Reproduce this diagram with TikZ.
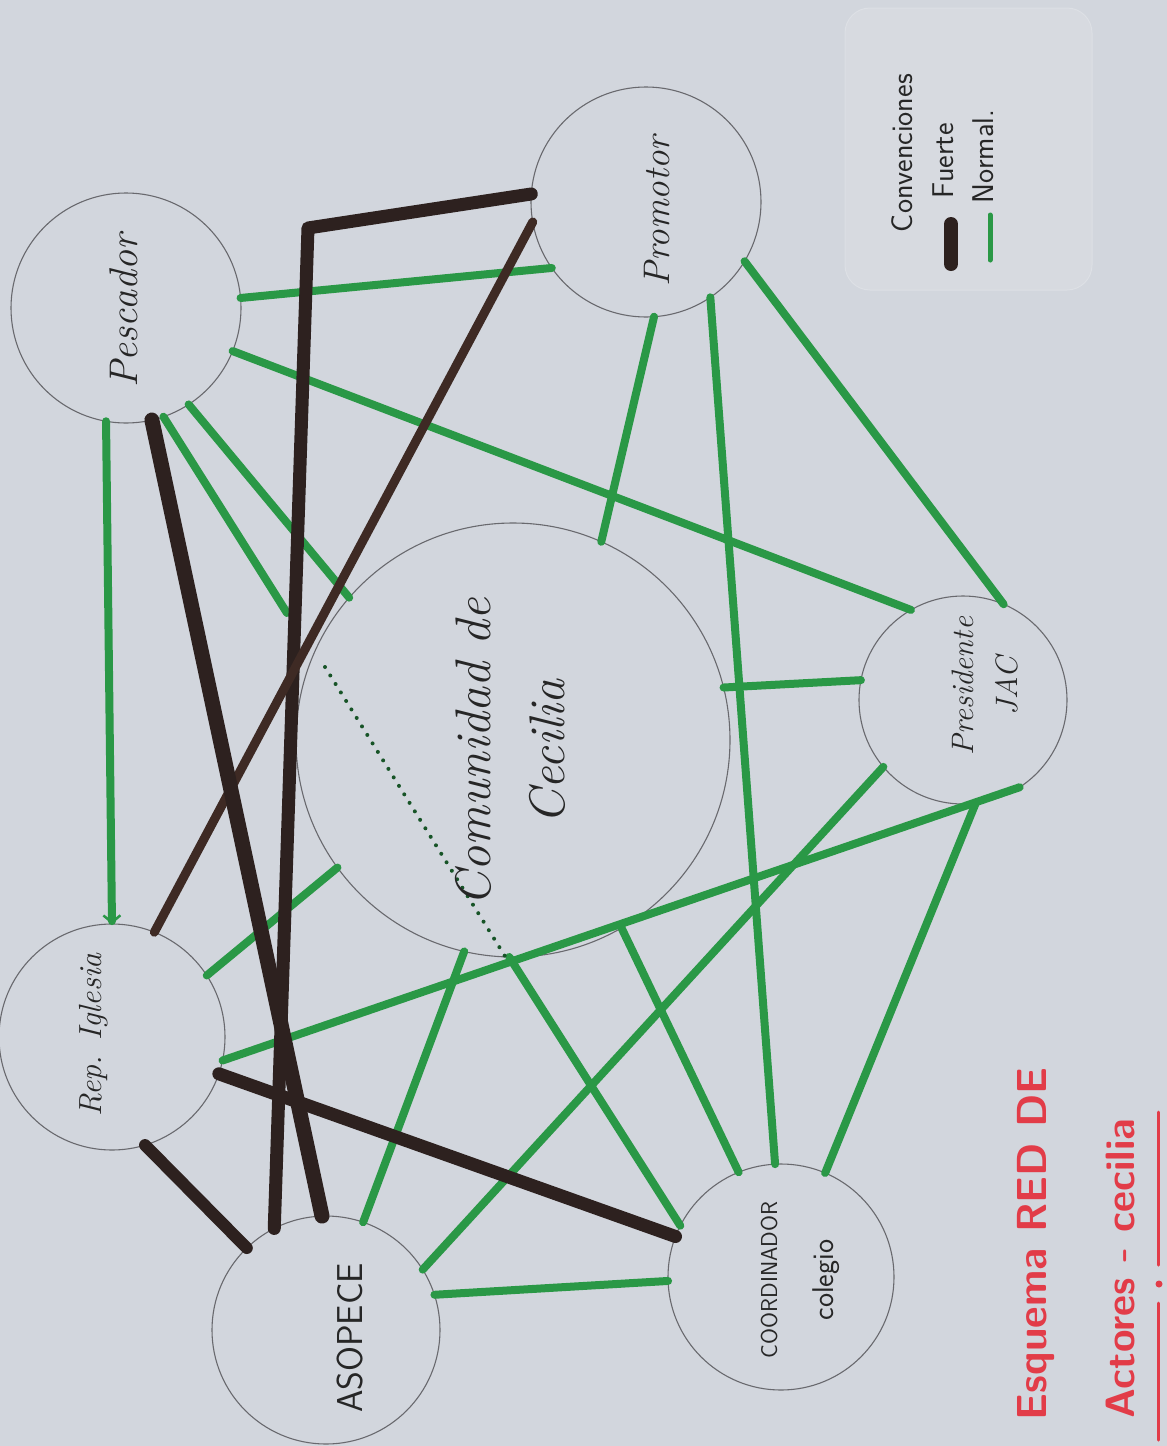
\documentclass[tikz,border=0pt]{standalone}
\usepackage{fontspec}
\usetikzlibrary{arrows.meta}
\definecolor{paper}{RGB}{210,214,221}
\definecolor{marker}{RGB}{42,152,70}
\definecolor{fuertecol}{RGB}{45,33,31}
\definecolor{fuertecolb}{RGB}{62,42,36}
\definecolor{pencil}{RGB}{105,105,110}
\definecolor{titulo}{RGB}{226,60,72}
\begin{document}
\begin{tikzpicture}[x=1pt,y=-1pt]
  \tikzstyle{every node}+=[inner sep=0pt, outer sep=0pt]
  \tikzstyle{actor}=[circle, draw=pencil, line width=1.1pt]
  \tikzstyle{lbl}=[rotate=90, align=center, text=black!85]
  \tikzstyle{linknormal}=[marker, line width=8pt, line cap=round]
  \tikzstyle{linkfuerte}=[fuertecol, line width=13pt, line cap=round, line join=round]
  \tikzstyle{punteado}=[marker!55!black, line width=4pt, line cap=round, dash pattern=on 0pt off 10pt]
  \fill [paper] (0,0) rectangle (1167,1446);
  \useasboundingbox (0,0) rectangle (1167,1446);
  \draw [white!25!paper, fill=white!10!paper, line width=1pt, rounded corners=25pt] (845,8) rectangle (1092,290);
  \node [actor, minimum size=230pt] (pes) at (126,308) {};
  \node [actor, minimum size=230pt] (pro) at (646,202) {};
  \node [actor, minimum size=434pt] (com) at (513,740) {};
  \node [actor, minimum size=208pt] (pre) at (963,700) {};
  \node [actor, minimum size=226pt] (rep) at (112,1037) {};
  \node [actor, minimum size=228pt] (aso) at (326,1330) {};
  \node [actor, minimum size=226pt] (coo) at (781,1277) {};
  \coordinate (esq) at (308,228);
  \coordinate (pescorte) at (287,613);
  \coordinate (puntos) at (325,667);
  \draw [linknormal] (pes.5) -- (pro.215);
  \draw [linknormal] (pes.-22) -- (pre.120);
  \draw [linknormal, -{Straight Barb[length=7pt,width=17pt,line width=2.5pt]}] (pes.-100) -- (rep.90);
  \draw [linknormal] (pes.-71) -- (pescorte);
  \draw [linknormal] (pes.-57) -- (com.139);
  \draw [linknormal] (pro.-86) -- (com.66);
  \draw [linknormal] (pro.-56) -- (coo.93);
  \draw [linknormal] (pro.-31) -- (pre.67);
  \draw [linknormal] (com.14) -- (pre.169);
  \draw [linknormal] (pre.220) -- (aso.32);
  \draw [linknormal] (pre.-83) -- (coo.67);
  \draw [linknormal] (pre.-57) -- (rep.-12);
  \draw [linknormal] (com.216) -- (rep.33);
  \draw [linknormal] (com.257) -- (aso.71);
  \draw [linknormal] (com.269) -- (coo.153);
  \draw [linknormal] (com.-60) -- (coo.112);
  \draw [linknormal] (aso.18) -- (coo.182);
  \draw [punteado] (puntos) -- (com.-92);
  \draw [linkfuerte] (pro.176) -- (esq) -- (aso.117);
  \draw [linkfuerte, fuertecolb, line width=9pt] (pro.190) -- (rep.68);
  \draw [linkfuerte, line width=15pt] (pes.-77) -- (aso.92);
  \draw [linkfuerte] (rep.-19) -- (coo.159);
  \draw [linkfuerte, line width=12pt] (rep.-73) -- (aso.134);
  \node [lbl, font=\itshape\fontsize{40}{44}\selectfont] (pesl) at (124,311) {Pescador};
  \node [lbl, font=\itshape\fontsize{37}{40}\selectfont] (prol) at (657,211) {Promotor};
  \node [lbl, font=\itshape\fontsize{50}{74}\selectfont] (coml) at (510,752) {Comunidad de\\Cecilia};
  \node [lbl, font=\itshape\fontsize{31}{44}\selectfont] (prel) at (985,686) {Presidente\\JAC};
  \node [lbl, font=\itshape\fontsize{32}{36}\selectfont] (repl) at (94,1035) {Rep. Iglesia};
  \node [lbl, font=\sffamily\fontsize{36}{40}\selectfont] (asol) at (350,1338) {ASOPECE};
  \node [lbl, font=\sffamily\fontsize{23}{56}\selectfont] (cool) at (800,1280) {COORDINADOR\\{\fontsize{30}{34}\selectfont colegio}};
  \node [lbl, anchor=west, font=\sffamily\fontsize{30}{34}\selectfont] (conv) at (902,232) {Convenciones};
  \node [lbl, anchor=west, font=\sffamily\fontsize{30}{34}\selectfont] (fuel) at (943,198) {Fuerte};
  \node [lbl, anchor=west, font=\sffamily\fontsize{30}{34}\selectfont] (norl) at (983,203) {Normal.};
  \draw [linkfuerte, line width=14pt] (951,224) -- (951,264);
  \draw [linknormal, line width=5pt] (990,215) -- (990,260);
  \node [lbl, anchor=west, text=titulo, font=\sffamily\bfseries\fontsize{42}{46}\selectfont] (tit1) at (1036,1420) {Esquema RED DE};
  \node [lbl, anchor=west, text=titulo, font=\sffamily\bfseries\fontsize{41}{45}\selectfont] (tit2) at (1120,1418) {Actores - cecilia};
  \draw [titulo, line width=3pt, line cap=round] (1158,1112) -- (1158,1265);
  \fill [titulo] (1159,1284) circle (3.5pt);
  \draw [titulo, line width=3pt, line cap=round] (1158,1303) -- (1158,1440);
\end{tikzpicture}
\end{document}
